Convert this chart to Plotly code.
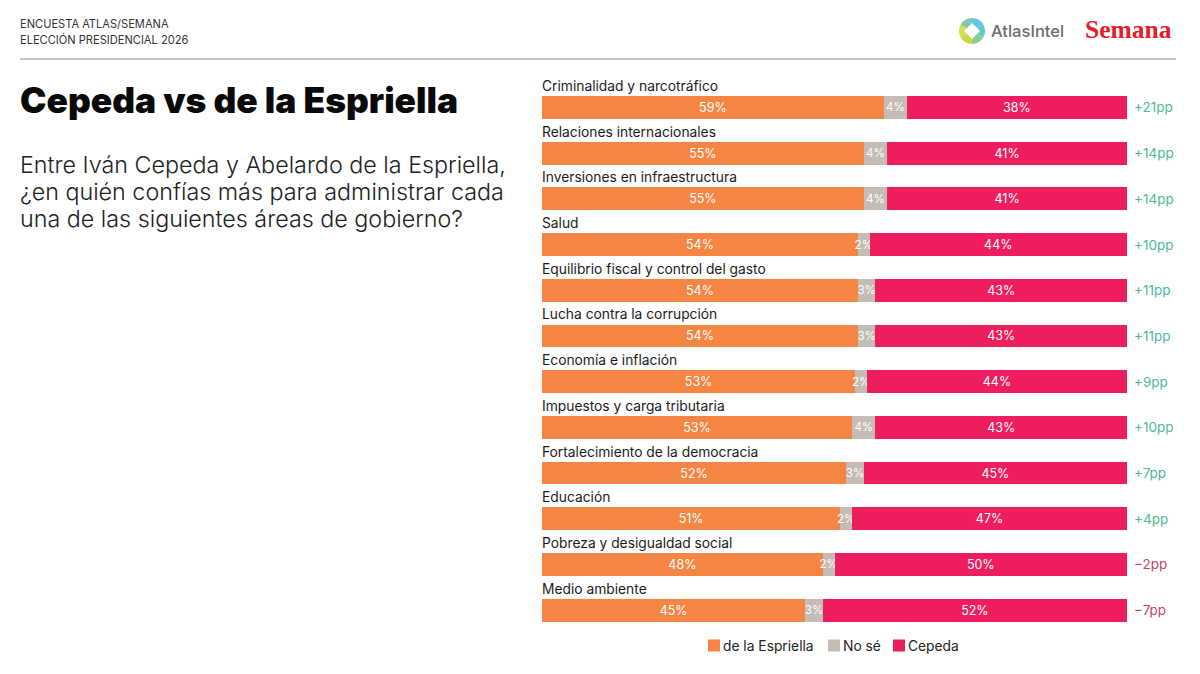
import plotly.graph_objects as go

# datos de la encuesta
areas = ["Criminalidad y narcotráfico", "Relaciones internacionales", "Inversiones en infraestructura",
         "Salud", "Equilibrio fiscal y control del gasto", "Lucha contra la corrupción",
         "Economía e inflación", "Impuestos y carga tributaria", "Fortalecimiento de la democracia",
         "Educación", "Pobreza y desigualdad social", "Medio ambiente"]
espriella = [59, 55, 55, 54, 54, 54, 53, 53, 52, 51, 48, 45]
no_se = [4, 4, 4, 2, 3, 3, 2, 4, 3, 2, 2, 3]
cepeda = [38, 41, 41, 44, 43, 43, 44, 43, 45, 47, 50, 52]
diferencia = ["+21pp", "+14pp", "+14pp", "+10pp", "+11pp", "+11pp", "+9pp", "+10pp", "+7pp", "+4pp", "−2pp", "−7pp"]

W, H = 1200, 674
FONT = "Inter"


def px(x):
    return x / W


def py(y):
    return 1 - y / H


fig = go.Figure()
series = [("de la Espriella", espriella, "#F58542", 12.5), ("No sé", no_se, "#C5BCB5", 11.5), ("Cepeda", cepeda, "#EE1E5E", 12.5)]
for name, vals, color, size in series:
    fig.add_trace(go.Bar(
        name=name, y=areas, x=vals, orientation="h",
        marker=dict(color=color, line=dict(width=0)),
        text=[f"{v}%" for v in vals], textposition="inside", insidetextanchor="middle",
        textangle=0, constraintext="none",
        textfont=dict(color="white", size=size, family=FONT),
        hoverinfo="x+y", showlegend=False,
    ))

# logo de AtlasIntel
fig.add_trace(go.Pie(
    values=[1, 1, 1, 1, 1, 1], sort=False, direction="clockwise", rotation=0,
    marker=dict(colors=["#5CC4E4", "#62C8C8", "#8CCB8A", "#C9DB3C", "#D6E04A", "#7FC8B0"], line=dict(width=0)),
    textinfo="none", hoverinfo="skip", showlegend=False,
    domain=dict(x=[px(959), px(985)], y=[py(44), py(18)]),
))

fig.update_layout(
    width=W, height=H, autosize=False,
    paper_bgcolor="white", plot_bgcolor="white",
    margin=dict(l=0, r=0, t=0, b=0),
    barmode="stack", barnorm="percent", bargap=0.5,
    showlegend=False,
    xaxis=dict(domain=[px(542), px(1127)], range=[0, 100], visible=False, fixedrange=True),
    yaxis=dict(domain=[py(633), py(84.6)], range=[11.5, -0.5], visible=False, fixedrange=True,
               categoryorder="array", categoryarray=areas),
    font=dict(family=FONT),
)

fig.add_shape(type="line", xref="paper", yref="paper", x0=px(20), x1=px(1176), y0=py(59), y1=py(59),
              line=dict(color="#8C8C8C", width=1))
# rombo blanco del logo
fig.add_shape(type="path", xref="paper", yref="paper", fillcolor="white", line=dict(width=0),
              path=f"M {px(972)} {py(23)} L {px(980)} {py(31)} L {px(972)} {py(39)} L {px(964)} {py(31)} Z")


def texto(x, y, s, size, color, weight=None, family=FONT):
    fig.add_annotation(xref="paper", yref="paper", x=px(x), y=py(y), text=s, showarrow=False,
                       xanchor="left", yanchor="middle", align="left",
                       font=dict(size=size, color=color, family=family, weight=weight), borderpad=0, borderwidth=0)


texto(20, 24.5, "ENCUESTA ATLAS/SEMANA", 11.1, "#333333")
texto(20, 39.5, "ELECCIÓN PRESIDENCIAL 2026", 11.1, "#333333")
texto(20, 100, "Cepeda vs de la Espriella", 35.4, "#0A0A0A", weight=900)
texto(20, 164.5, "Entre Iván Cepeda y Abelardo de la Espriella,", 23.3, "#222222", weight=300)
texto(20, 191.5, "¿en quién confías más para administrar cada", 23.3, "#222222", weight=300)
texto(20, 218.5, "una de las siguientes áreas de gobierno?", 23.3, "#222222", weight=300)
texto(991, 31, "AtlasIntel", 16.5, "#6D6E70", weight=500)
texto(1085, 30, "Semana", 25.5, "#E3202A", weight=700, family="Liberation Serif")

# leyenda
for x, (name, vals, color, size) in zip([708, 828, 893], series):
    fig.add_shape(type="rect", xref="paper", yref="paper", x0=px(x), x1=px(x + 12), y0=py(639.5), y1=py(651.5),
                  fillcolor=color, line=dict(width=0))
    texto(x + 15, 645.5, name, 13.8, "#222222")

for area, dif in zip(areas, diferencia):
    fig.add_annotation(xref="paper", yref="y", x=px(542), y=area, yshift=21.5, text=area, showarrow=False,
                       xanchor="left", yanchor="middle", borderpad=0, borderwidth=0,
                       font=dict(size=13.8, color="#1A1A1A", family=FONT))
    color = "#C2456B" if dif.startswith("−") else "#4DB89B"
    fig.add_annotation(xref="paper", yref="y", x=px(1134), y=area, text=dif, showarrow=False,
                       xanchor="left", yanchor="middle", borderpad=0, borderwidth=0,
                       font=dict(size=13.5, color=color, family=FONT))

fig.write_html("out.html", config=dict(displayModeBar=False), post_script="document.body.style.margin='0';")
